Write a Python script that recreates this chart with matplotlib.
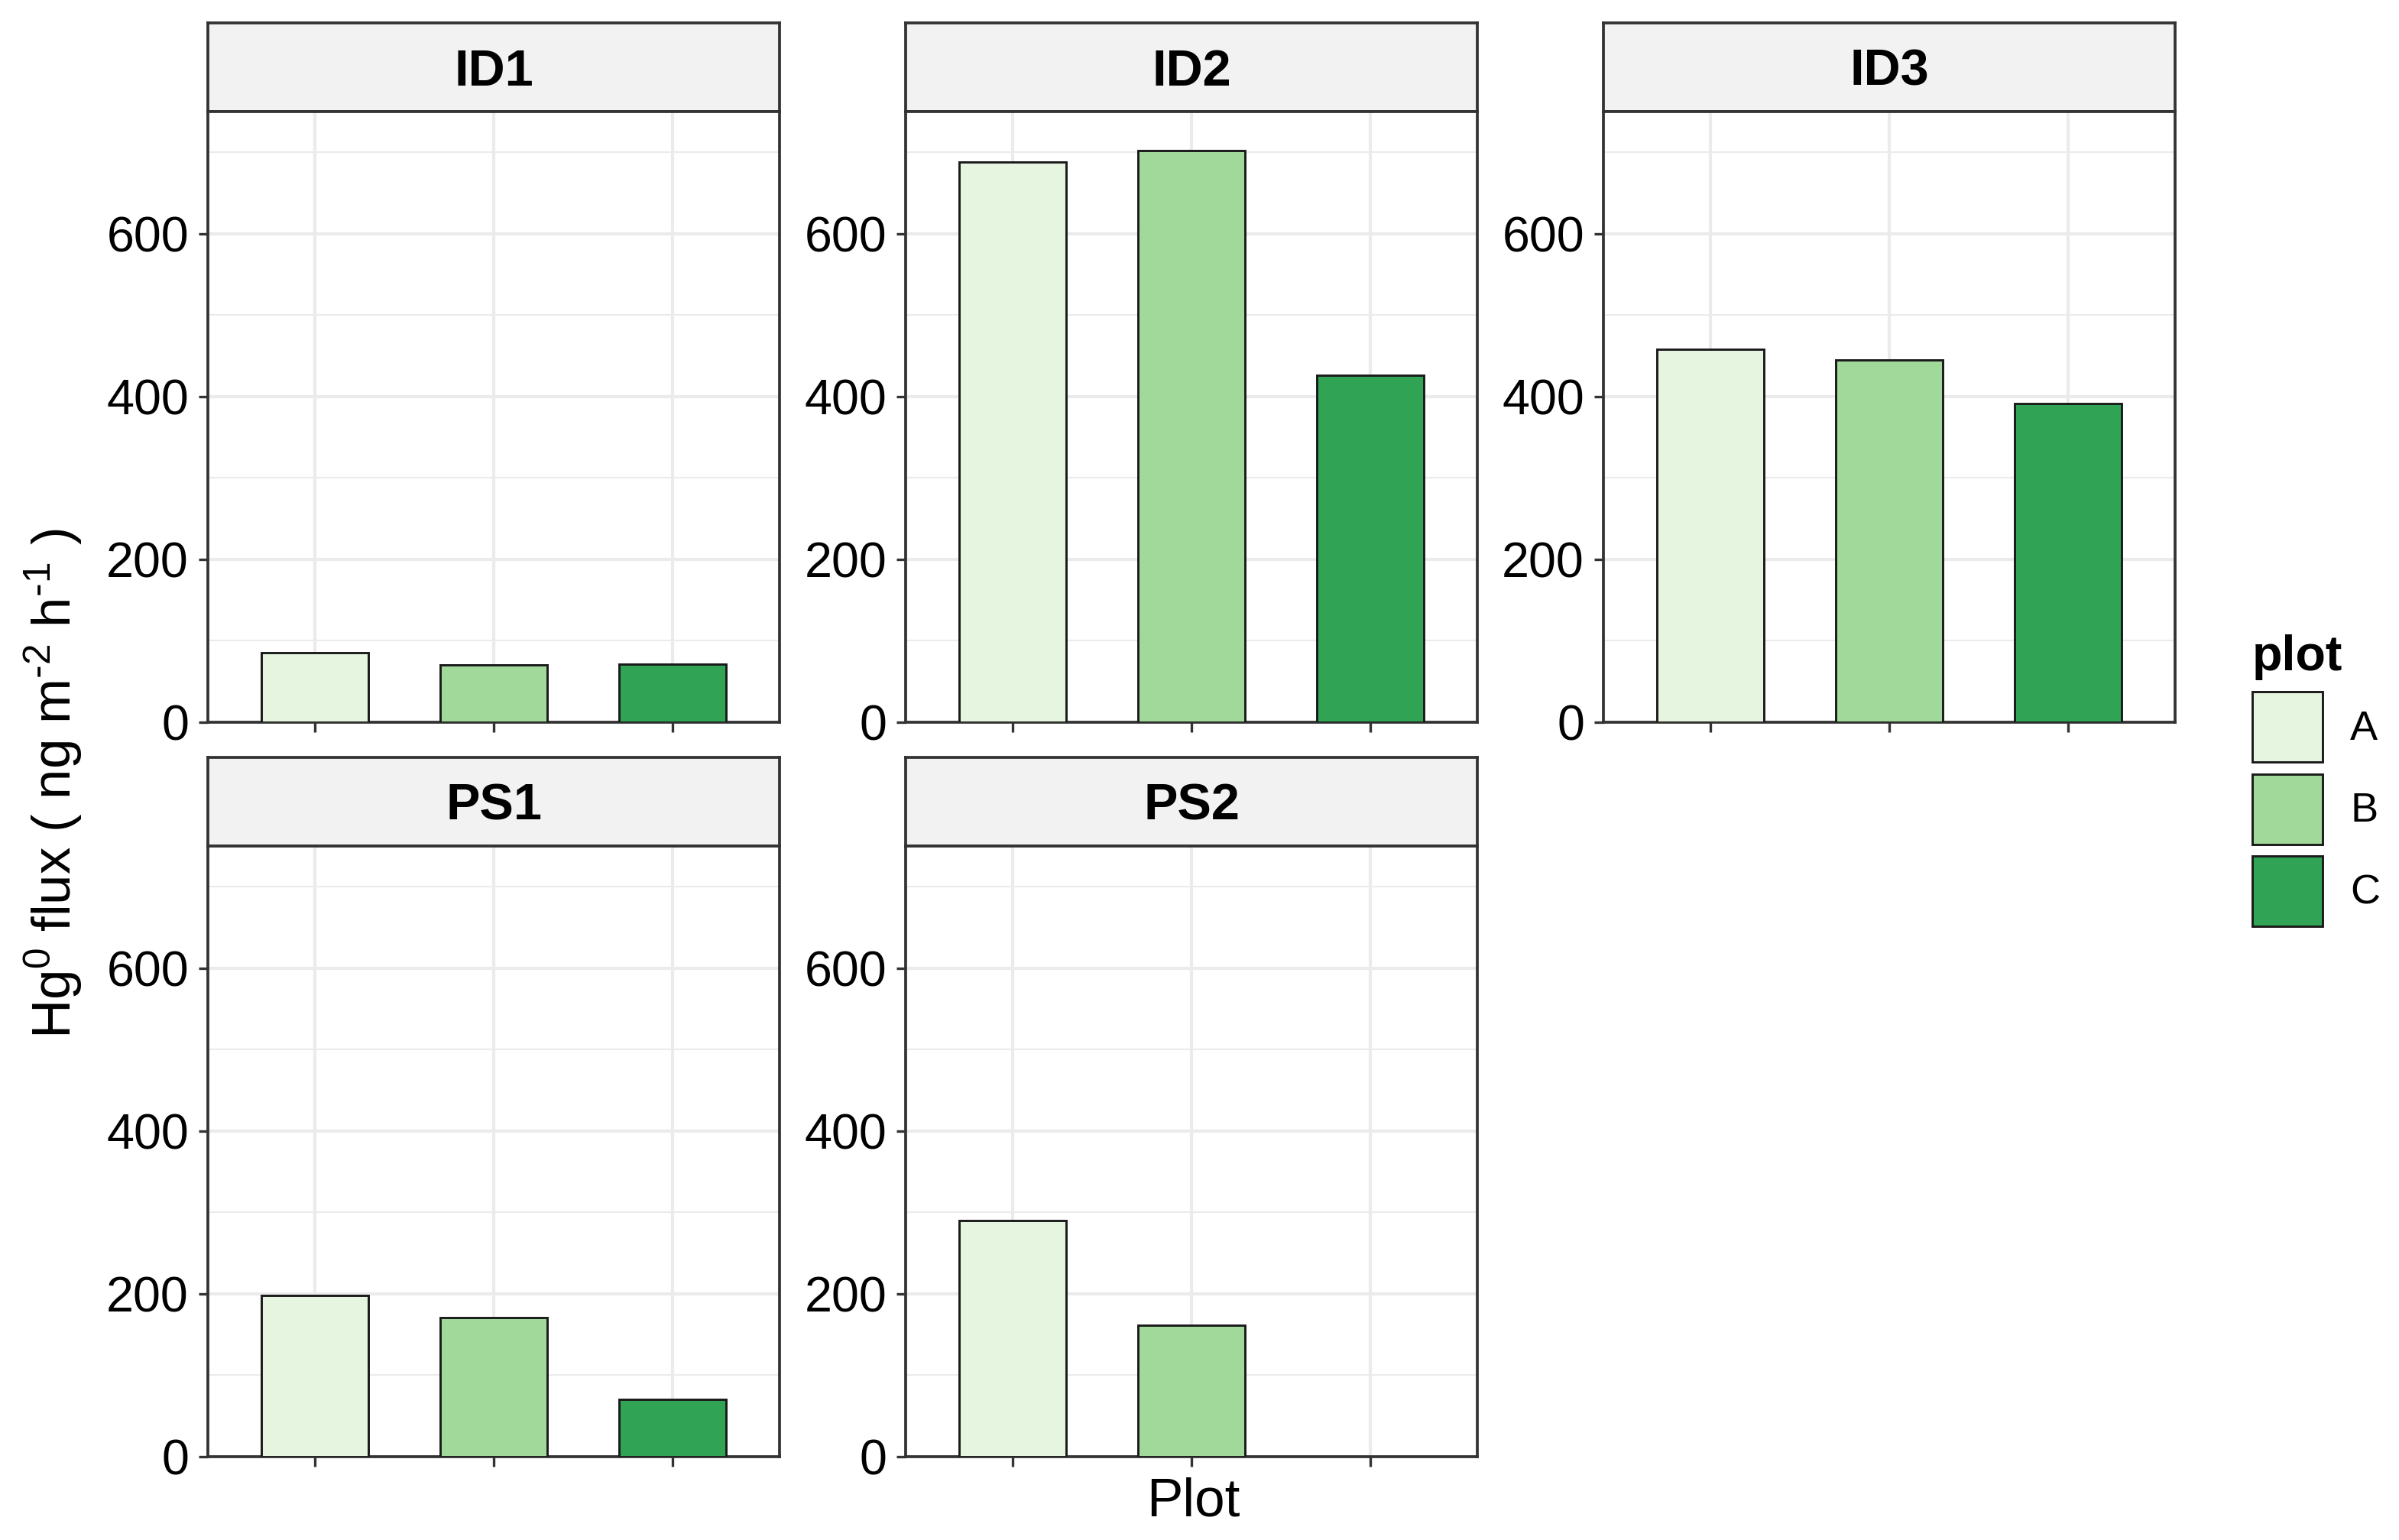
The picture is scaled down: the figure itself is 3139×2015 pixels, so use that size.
import numpy as np
import matplotlib
matplotlib.use("Agg")
import matplotlib.pyplot as plt
from matplotlib.patches import Patch

plt.rcParams["font.family"] = ["Liberation Sans", "DejaVu Sans"]
plt.rcParams["mathtext.default"] = "regular"

# Data
sites = ["ID1", "ID2", "ID3", "PS1", "PS2"]
plots = ["A", "B", "C"]
flux_A = [85, 688, 458, 198, 290]
flux_B = [70, 702, 445, 171, 161]
flux_C = [71, 426, 391, 70, np.nan]  # no bar for PS2 / C

colors = {"A": "#e5f5e0", "B": "#a1d99b", "C": "#31a354"}
EDGE = "#1a1a1a"
BORDER = "#333333"
GRID = "#ebebeb"

W, H = 3139, 2015
DPI = 300

# panel positions in pixels (left, top of strip)
col_left = [272, 1185, 2098]
row_top = [30, 991]
panel_w = 748
strip_h = 116
panel_h = 799


def frac_box(x, y, w, h):
    return [x / W, 1 - (y + h) / H, w / W, h / H]


def main():
    fig = plt.figure(figsize=(W / DPI, H / DPI), dpi=DPI)
    values = {"A": flux_A, "B": flux_B, "C": flux_C}
    xpos = np.arange(1, len(plots) + 1)

    for i, site in enumerate(sites):
        r, c = divmod(i, 3)
        x0, y0 = col_left[c], row_top[r]

        # strip with facet title
        sax = fig.add_axes(frac_box(x0, y0, panel_w, strip_h))
        sax.set_facecolor("#f2f2f2")
        sax.set_xticks([])
        sax.set_yticks([])
        for sp in sax.spines.values():
            sp.set_color(BORDER)
            sp.set_linewidth(0.9)
        # baseline placed so the capitals sit in the middle of the strip
        cap_px = 16 * DPI / 72 * 0.716
        sax.text(0.5, 0.5 - cap_px / 2 / strip_h, site, ha="center",
                 va="baseline", fontsize=16, fontweight="bold",
                 transform=sax.transAxes)

        ax = fig.add_axes(frac_box(x0, y0 + strip_h, panel_w, panel_h))
        for k, p in enumerate(plots):
            v = values[p][i]
            if np.isnan(v):
                continue
            ax.bar(xpos[k], v, width=0.6, color=colors[p], edgecolor=EDGE,
                   linewidth=0.7, zorder=3)

        ax.set_xlim(0.4, 3.6)
        ax.set_ylim(0, 750)
        ax.set_xticks(xpos)
        ax.set_xticklabels([])
        ax.set_yticks([0, 200, 400, 600])
        ax.set_yticks([100, 300, 500, 700], minor=True)
        ax.grid(which="major", color=GRID, linewidth=1.0, zorder=0)
        ax.grid(which="minor", axis="y", color=GRID, linewidth=0.5, zorder=0)
        ax.set_axisbelow(True)
        ax.tick_params(axis="both", which="major", length=3, width=0.8,
                       color=BORDER, labelsize=15.5, pad=3)
        ax.tick_params(axis="y", which="minor", length=0)
        for sp in ax.spines.values():
            sp.set_color(BORDER)
            sp.set_linewidth(0.9)

    fig.text(70 / W, 0.491,
             r"Hg$^{0}$ flux ( ng m$^{\text{-}2}$ h$^{\text{-}1}$ )",
             rotation=90, ha="center", va="center", fontsize=17)
    fig.text(1561 / W, 1 - 1966 / H, "Plot", ha="center", va="center",
             fontsize=17)

    handles = [Patch(facecolor=colors[p], edgecolor=EDGE, linewidth=0.7)
               for p in plots]
    fig.legend(handles, plots, title="plot", loc="center left",
               bbox_to_anchor=(2947 / W, 0.4933), frameon=False,
               fontsize=13, title_fontproperties={"weight": "bold", "size": 15.5},
               handlelength=1.7, handleheight=2.24, labelspacing=0.28,
               handletextpad=0.67, borderpad=0, borderaxespad=0,
               alignment="left")

    fig.savefig("out.png", dpi=DPI)


if __name__ == "__main__":
    main()
